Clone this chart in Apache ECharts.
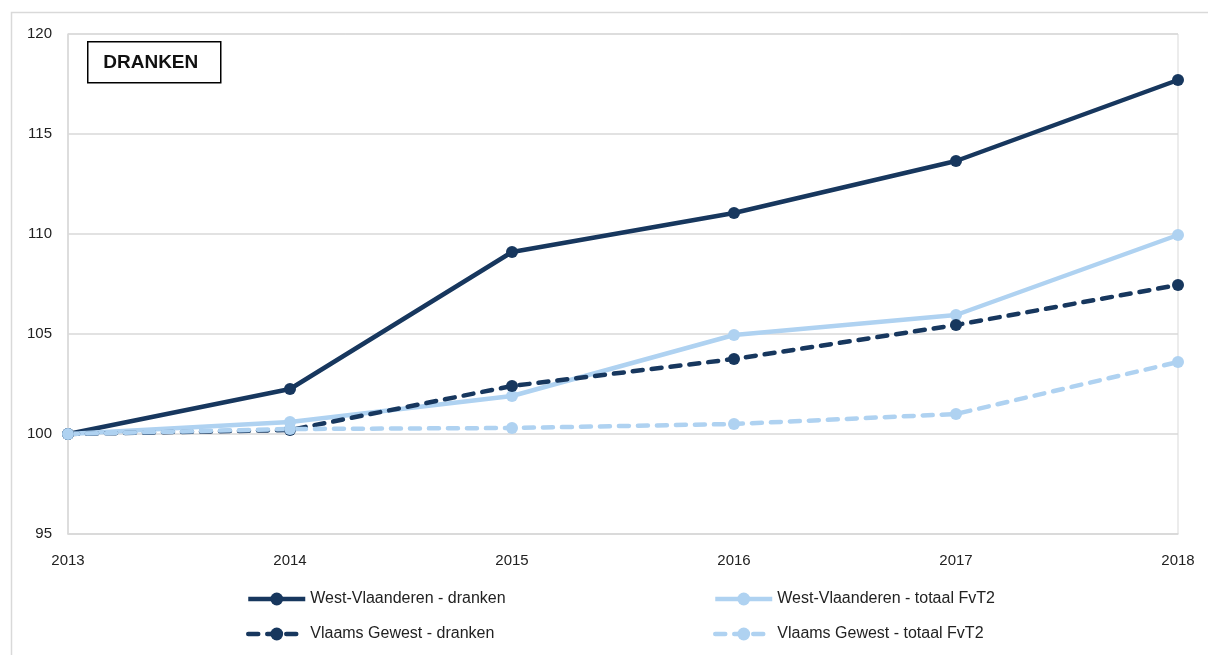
<!DOCTYPE html>
<html>
<head>
<meta charset="utf-8">
<script src="https://cdn.jsdelivr.net/npm/echarts@6/dist/echarts.min.js"></script>
<style>
  html, body { margin: 0; padding: 0; background: #fff; }
  #chart { width: 1208px; height: 655px; }
</style>
</head>
<body>
<div id="chart"></div>
<script>
const years = ["2013", "2014", "2015", "2016", "2017", "2018"];
const wvDranken = [100, 102.25, 109.1, 111.05, 113.65, 117.7];
const wvTotaal = [100, 100.6, 101.9, 104.95, 105.95, 109.95];
const vgDranken = [100, 100.2, 102.4, 103.75, 105.45, 107.45];
const vgTotaal = [100, 100.25, 100.3, 100.5, 101.0, 103.6];

const navy = "#17375E";
const lightBlue = "#AFD2F1";
const font = "Liberation Sans, Arial, sans-serif";

const chart = echarts.init(document.getElementById("chart"), null, { renderer: "canvas" });

const makeSeries = (name, data, color, dashed) => ({
  name,
  type: "line",
  data,
  symbol: "circle",
  symbolSize: 12,
  itemStyle: { color },
  lineStyle: {
    color,
    width: 4.5,
    type: dashed ? [10, 9] : "solid",
    cap: dashed ? "round" : "butt",
  },
  animation: false,
});

const legendBase = {
  top: 591,
  orient: "vertical",
  padding: 0,
  itemGap: 19,
  itemWidth: 57,
  itemHeight: 16,
  itemTextGap: 4,
  lineStyle: { width: 4.5 },
  textStyle: { color: "#222", fontSize: 16, fontFamily: font },
};

chart.setOption({
  backgroundColor: "#fff",
  textStyle: { fontFamily: font },
  grid: {
    left: 68,
    right: 30,
    top: 34,
    bottom: 121,
    show: true,
    borderColor: "#d9d9d9",
    borderWidth: 1,
  },
  xAxis: {
    type: "category",
    data: years,
    boundaryGap: false,
    axisLine: { lineStyle: { color: "#d9d9d9", width: 1.5 } },
    axisTick: { show: false },
    axisLabel: { color: "#222", fontSize: 15, margin: 19, fontFamily: font },
    splitLine: { show: false },
  },
  yAxis: {
    type: "value",
    min: 95,
    max: 120,
    interval: 5,
    axisLine: { show: true, lineStyle: { color: "#d9d9d9", width: 1.5 } },
    axisTick: { show: false },
    axisLabel: { color: "#222", fontSize: 15, margin: 16, fontFamily: font },
    splitLine: { lineStyle: { color: "#d9d9d9", width: 1.5 } },
  },
  legend: [
    Object.assign({}, legendBase, {
      left: 246,
      data: ["West-Vlaanderen - dranken", "Vlaams Gewest - dranken"],
    }),
    Object.assign({}, legendBase, {
      left: 713,
      data: ["West-Vlaanderen - totaal FvT2", "Vlaams Gewest - totaal FvT2"],
    }),
  ],
  graphic: [
    {
      type: "rect",
      left: 9,
      top: 10,
      shape: { width: 1300, height: 700 },
      style: { fill: "none", stroke: "#d9d9d9", lineWidth: 1.5 },
      silent: true,
    },
    {
      type: "group",
      left: 87,
      top: 41,
      children: [
        {
          type: "rect",
          shape: { x: 0, y: 0, width: 133, height: 41 },
          style: { fill: "#fff", stroke: "#000", lineWidth: 1.5 },
        },
        {
          type: "text",
          x: 63,
          y: 21,
          style: {
            text: "DRANKEN",
            fill: "#111",
            font: "bold 19px " + font,
            align: "center",
            verticalAlign: "middle",
          },
        },
      ],
    },
  ],
  series: [
    makeSeries("West-Vlaanderen - dranken", wvDranken, navy, false),
    makeSeries("West-Vlaanderen - totaal FvT2", wvTotaal, lightBlue, false),
    makeSeries("Vlaams Gewest - dranken", vgDranken, navy, true),
    makeSeries("Vlaams Gewest - totaal FvT2", vgTotaal, lightBlue, true),
  ],
});
</script>
</body>
</html>
